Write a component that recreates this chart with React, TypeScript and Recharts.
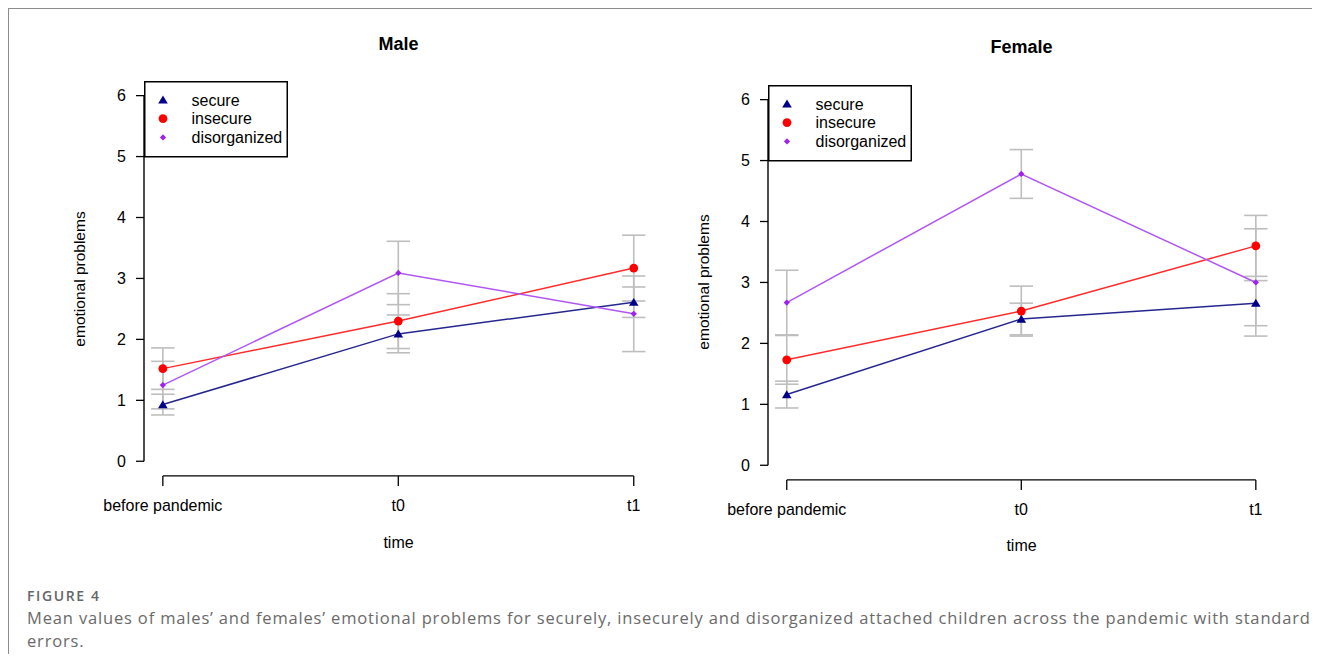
import React from 'react';
import { LineChart, Line, XAxis, YAxis, ErrorBar, ReferenceLine, Legend } from 'recharts';

// ---- data ----
const timeLabels = ['before pandemic', 't0', 't1'];
const yTicks = [0, 1, 2, 3, 4, 5, 6];
const groupNames = ['secure', 'insecure', 'disorganized'];

const maleSecure = [0.93, 2.09, 2.61];
const maleSecureSE = [0.17, 0.31, 0.25];
const maleInsecure = [1.52, 2.3, 3.17];
const maleInsecureSE = [0.34, 0.45, 0.54];
const maleDisorganized = [1.25, 3.09, 2.42];
const maleDisorganizedSE = [0.39, 0.52, 0.62];

const femaleSecure = [1.16, 2.4, 2.66];
const femaleSecureSE = [0.22, 0.26, 0.37];
const femaleInsecure = [1.73, 2.53, 3.6];
const femaleInsecureSE = [0.4, 0.41, 0.5];
const femaleDisorganized = [2.67, 4.78, 3.0];
const femaleDisorganizedSE = [0.53, 0.4, 0.88];

// ---- styles ----
const FONT = '"Liberation Sans", Arial, Helvetica, sans-serif';
const lineColors = ['#26268f', '#ff2b2b', '#b056f5'];
const markColors = ['#00008b', '#ff0000', '#a020f0'];
const ERR = '#bebebe';

const buildRows = (
  s: number[], sSE: number[], i: number[], iSE: number[], d: number[], dSE: number[]
) =>
  timeLabels.map((_, k) => ({
    t: k,
    secure: s[k], secureSE: sSE[k],
    insecure: i[k], insecureSE: iSE[k],
    disorganized: d[k], disorganizedSE: dSE[k],
  }));

const maleRows = buildRows(maleSecure, maleSecureSE, maleInsecure, maleInsecureSE, maleDisorganized, maleDisorganizedSE);
const femaleRows = buildRows(femaleSecure, femaleSecureSE, femaleInsecure, femaleInsecureSE, femaleDisorganized, femaleDisorganizedSE);

const Marker = ({ kind, cx, cy }: { kind: number; cx: number; cy: number }) => {
  if (cx == null || cy == null || isNaN(cx) || isNaN(cy)) return null;
  if (kind === 0) {
    const w = 4.8, h = 4.3;
    return <path d={`M${cx},${cy - h} L${cx + w},${cy + h * 0.85} L${cx - w},${cy + h * 0.85} Z`} fill={markColors[0]} />;
  }
  if (kind === 1) return <circle cx={cx} cy={cy} r={4.4} fill={markColors[1]} />;
  const r = 3.1;
  return <path d={`M${cx},${cy - r} L${cx + r},${cy} L${cx},${cy + r} L${cx - r},${cy} Z`} fill={markColors[2]} />;
};

const makeDot = (kind: number) => (p: any) => (
  <Marker key={`m${kind}-${p.index}`} kind={kind} cx={p.cx} cy={p.cy} />
);

const LegendBox = () => (
  <svg width={144} height={77} style={{ display: 'block', overflow: 'visible' }}>
    <rect x={0.75} y={0.75} width={142.5} height={75} fill="none" stroke="#000" strokeWidth={1.5} />
    {groupNames.map((g, i) => {
      const cy = 18.8 + i * 18.8;
      return (
        <g key={g}>
          <Marker kind={i} cx={19} cy={cy} />
          <text x={47.5} y={cy} dy="0.36em" fontSize={16} fontFamily={FONT} fill="#000">{g}</text>
        </g>
      );
    })}
  </svg>
);

const ML = 100, MT = 40, MR = 30, XH = 40, MB = 30;

type PanelProps = {
  title: string;
  rows: any[];
  plotLeft: number;
  plotTop: number;
  plotW: number;
  plotH: number;
};

const Panel = ({ title, rows, plotLeft, plotTop, plotW, plotH }: PanelProps) => {
  const W = ML + plotW + MR;
  const H = MT + plotH + XH + MB;
  const tickStyle = { fontSize: 16, fill: '#000', fontFamily: FONT };
  return (
    <>
      <div style={{ position: 'absolute', left: plotLeft - ML, top: plotTop - MT, width: W, height: H }}>
        <LineChart width={W} height={H} data={rows} margin={{ top: MT, right: MR, bottom: MB, left: ML - 60 }}>
          <XAxis
            dataKey="t"
            type="number"
            domain={[-0.08, 2.08]}
            ticks={[0, 1, 2]}
            interval={0}
            allowDataOverflow
            axisLine={false}
            tickLine={{ stroke: '#000', strokeWidth: 1.3 }}
            tickSize={10}
            tickMargin={13.5}
            height={XH}
            tick={tickStyle}
            tickFormatter={(v: number) => timeLabels[v]}
          />
          <YAxis
            type="number"
            domain={[-0.24, 6.24]}
            ticks={yTicks}
            interval={0}
            allowDataOverflow
            axisLine={false}
            tickLine={{ stroke: '#000', strokeWidth: 1.3 }}
            tickSize={8}
            tickMargin={10}
            width={60}
            tick={tickStyle}
          />
          <ReferenceLine
            segment={[{ x: -0.08, y: 0 }, { x: -0.08, y: 6 }]}
            stroke="#000"
            strokeWidth={1.4}
            ifOverflow="visible"
          />
          <ReferenceLine
            segment={[{ x: 0, y: -0.24 }, { x: 2, y: -0.24 }]}
            stroke="#000"
            strokeWidth={1.4}
            ifOverflow="visible"
          />
          {groupNames.map((g, i) => (
            <Line
              key={g}
              dataKey={g}
              type="linear"
              stroke={lineColors[i]}
              strokeWidth={1.5}
              dot={makeDot(i)}
              activeDot={false}
              isAnimationActive={false}
            >
              <ErrorBar
                dataKey={`${g}SE`}
                direction="y"
                width={11.7}
                stroke={ERR}
                strokeWidth={1.6}
                isAnimationActive={false}
              />
            </Line>
          ))}
          <Legend
            layout="horizontal"
            verticalAlign="middle"
            align="center"
            wrapperStyle={{ left: ML, top: MT, width: 144, height: 77 }}
            content={() => <LegendBox />}
          />
        </LineChart>
      </div>
      <div style={{ position: 'absolute', left: plotLeft + plotW / 2, top: plotTop - 37.5, transform: 'translate(-50%,-50%)', fontFamily: FONT, fontWeight: 700, fontSize: 18, lineHeight: '18px', whiteSpace: 'nowrap', color: '#000' }}>
        {title}
      </div>
      <div style={{ position: 'absolute', left: plotLeft + plotW / 2, top: plotTop + plotH + 66.5, transform: 'translate(-50%,-50%)', fontFamily: FONT, fontSize: 16, lineHeight: '16px', whiteSpace: 'nowrap', color: '#000' }}>
        time
      </div>
      <div style={{ position: 'absolute', left: plotLeft - 64.5, top: plotTop + plotH / 2, transform: 'translate(-50%,-50%) rotate(-90deg)', fontFamily: FONT, fontSize: 15.5, lineHeight: '16px', whiteSpace: 'nowrap', color: '#000' }}>
        emotional problems
      </div>
    </>
  );
};

export default function App() {
  return (
    <div style={{ position: 'relative', margin: -8, width: 1320, height: 662, background: '#fff', overflow: 'hidden' }}>
      <div style={{ position: 'absolute', left: 8, top: 8, width: 1320, height: 662, borderTop: '1.5px solid #8c8c8c', borderLeft: '1.5px solid #8c8c8c' }} />
      <Panel title="Male" rows={maleRows} plotLeft={144.2} plotTop={81.4} plotW={508.6} plotH={394.9} />
      <Panel title="Female" rows={femaleRows} plotLeft={768.2} plotTop={84.7} plotW={506.6} plotH={394.9} />
      <div style={{ position: 'absolute', left: 27, top: 587, fontFamily: '"Open Sans", sans-serif', fontWeight: 600, fontSize: 14, lineHeight: '18px', color: '#666', letterSpacing: 1.6, whiteSpace: 'nowrap' }}>
        FIGURE 4
      </div>
      <div style={{ position: 'absolute', left: 27, top: 606, width: 1292, fontFamily: '"Open Sans", sans-serif', fontSize: 16.5, lineHeight: '23px', color: '#6a6a6a', letterSpacing: 0.84, whiteSpace: 'nowrap' }}>
        Mean values of males’ and females’ emotional problems for securely, insecurely and disorganized attached children across the pandemic with standard
        <br />
        errors.
      </div>
    </div>
  );
}
